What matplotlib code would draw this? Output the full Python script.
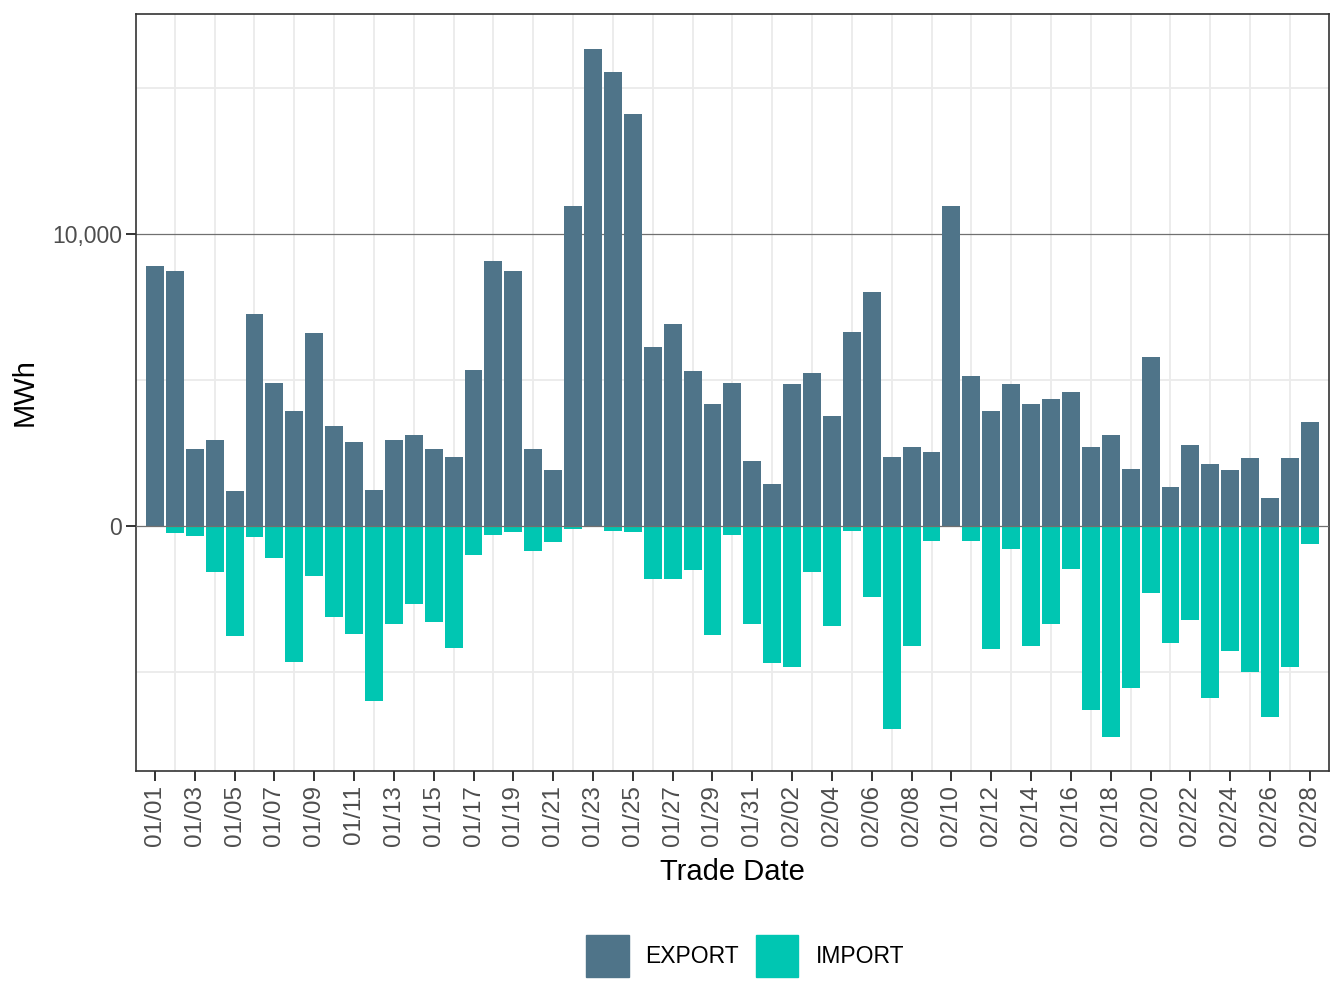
import matplotlib
matplotlib.use("Agg")
import matplotlib.pyplot as plt
import matplotlib.dates as mdates
from matplotlib.patches import Patch
from matplotlib.ticker import FuncFormatter, FixedLocator
import numpy as np
import pandas as pd

# trade dates, 01/01 to 02/28
trade_dates = pd.date_range("2023-01-01", "2023-02-28", freq="D")

# daily MWh
export_mwh = [8900, 8740, 2650, 2960, 1190, 7260, 4900, 3950, 6620, 3440,
              2890, 1220, 2960, 3130, 2650, 2380, 5340, 9080, 8740, 2620,
              1910, 10950, 16320, 15530, 14090, 6130, 6910, 5310, 4190, 4900,
              2240, 1450, 4870, 5250, 3750, 6650, 8020, 2380, 2690, 2520,
              10950, 5140, 3950, 4870, 4190, 4360, 4570, 2690, 3130, 1940,
              5800, 1320, 2760, 2110, 1910, 2320, 950, 2320, 3550]
import_mwh = [0, -230, -330, -1560, -3750, -370, -1080, -4640, -1700, -3100,
              -3680, -6000, -3340, -2650, -3270, -4160, -980, -300, -190, -840,
              -540, -90, 0, -160, -190, -1800, -1800, -1490, -3710, -300,
              -3340, -4700, -4810, -1560, -3410, -160, -2420, -6960, -4120, -500,
              0, -500, -4190, -780, -4120, -3340, -1460, -6310, -7220, -5530,
              -2280, -3990, -3200, -5870, -4260, -4980, -6530, -4810, -600]

series_names = ["EXPORT", "IMPORT"]
series_colors = ["#4F7489", "#00C6B2"]

plt.rcParams["font.family"] = ["Liberation Sans", "DejaVu Sans"]

fig = plt.figure(figsize=(13.44, 10.08), dpi=100)
ax = fig.add_axes([136 / 1344, 1 - 771 / 1008, (1329 - 136) / 1344, (771 - 14) / 1008])

x = mdates.date2num(trade_dates.to_pydatetime())
ax.bar(x, export_mwh, width=0.9, color=series_colors[0], zorder=2)
ax.bar(x, import_mwh, width=0.9, color=series_colors[1], zorder=2)

ax.set_xlim(x[0] - 0.95, x[-1] + 0.96)
ax.set_ylim(-8380, 17520)

# grid: light minor lines, darker major horizontal lines
for v in [-5000, 5000, 15000]:
    ax.axhline(v, color="#EBEBEB", lw=1.3, zorder=0)
for d in x[1::2]:
    ax.axvline(d, color="#EBEBEB", lw=1.3, zorder=0)
ax.axhline(10000, color="#707070", lw=0.9, zorder=1)
ax.axhline(0, color="#707070", lw=0.9, zorder=3)

ax.xaxis.set_major_locator(FixedLocator(x[::2]))
ax.xaxis.set_major_formatter(mdates.DateFormatter("%m/%d"))
ax.set_yticks([0, 10000])
ax.yaxis.set_major_formatter(FuncFormatter(lambda v, p: f"{int(v):,}"))

ax.tick_params(axis="both", length=7, width=1.4, color="#333333",
               labelsize=16.5, labelcolor="#4D4D4D")
ax.tick_params(axis="x", rotation=90, pad=3, labelsize=17.5)
ax.tick_params(axis="y", pad=3)
for s in ax.spines.values():
    s.set_color("#333333")
    s.set_linewidth(1.2)

ax.set_xlabel("Trade Date", fontsize=21, labelpad=9)
ax.set_ylabel("MWh", fontsize=21, labelpad=10)

handles = [Patch(color=c, label=n) for n, c in zip(series_names, series_colors)]
fig.legend(handles=handles, loc="center", bbox_to_anchor=(745 / 1344, 1 - 956 / 1008),
           ncol=2, frameon=False, fontsize=16.5, handlelength=1.85, handleheight=2.5,
           handletextpad=0.74, columnspacing=0.74)

fig.savefig("out.png", dpi=100)
